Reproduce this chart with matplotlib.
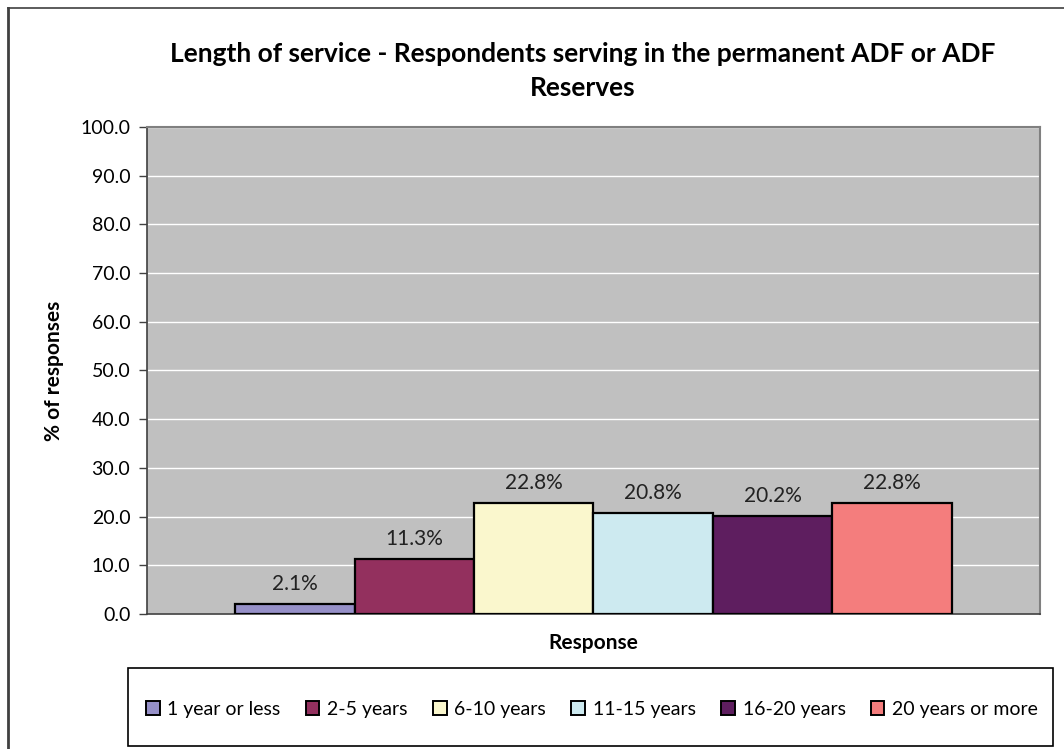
import matplotlib
matplotlib.use("Agg")
import matplotlib.pyplot as plt
from matplotlib.lines import Line2D
from matplotlib.patches import Rectangle

plt.rcParams['font.family'] = ['Lato', 'DejaVu Sans']

# service length groups and their share of responses (%)
groups = ['1 year or less', '2-5 years', '6-10 years', '11-15 years',
          '16-20 years', '20 years or more']
pct = [2.1, 11.3, 22.8, 20.8, 20.2, 22.8]
colors = ['#9690C8', '#93305E', '#FAF7CD', '#CDEAF0', '#5E1E5F', '#F47D7D']
yticks = [0, 10, 20, 30, 40, 50, 60, 70, 80, 90, 100]

fig = plt.figure(figsize=(10.64, 7.49), dpi=100)
ax = fig.add_axes([147 / 1064, 1 - 614 / 749, 893 / 1064, 487 / 749])
ax.set_facecolor('#C0C0C0')

for i, (g, v, c) in enumerate(zip(groups, pct, colors)):
    ax.bar(i, v, width=1.0, color=c, edgecolor='black', linewidth=1.6,
           label=g, zorder=3)
    ax.text(i, v + 2.0, f'{v:.1f}%', ha='center', va='bottom', fontsize=15,
            color='#222222', zorder=4)

ax.set_xlim(-1.24, 6.24)
ax.set_ylim(0, 100)
ax.set_yticks(yticks)
ax.set_yticklabels([f'{t:.1f}' for t in yticks], fontsize=14)
ax.set_xticks([])
ax.yaxis.grid(True, color='white', linewidth=1.0, zorder=0)
ax.tick_params(axis='y', direction='out', length=6, width=1, color='#404040', pad=6)

for side in ['left', 'bottom']:
    ax.spines[side].set_color('#404040')
    ax.spines[side].set_linewidth(1.2)
for side in ['right', 'top']:
    ax.spines[side].set_color('#808080')
    ax.spines[side].set_linewidth(1.5)

ax.set_ylabel('% of responses', fontsize=15, fontweight='bold', labelpad=12)
ax.set_xlabel('Response', fontsize=15, fontweight='bold', labelpad=14)

fig.text(583 / 1064, 1 - 71 / 749,
         'Length of service - Respondents serving in the permanent ADF or ADF\nReserves',
         ha='center', va='center', fontsize=19, fontweight='bold',
         linespacing=1.45)

# legend inside a framed box under the plot
box = Rectangle((128 / 1064, 1 - 746 / 749), 925 / 1064, 78 / 749,
                transform=fig.transFigure, facecolor='white',
                edgecolor='black', linewidth=1.2)
fig.patches.append(box)
handles = [Rectangle((0, 0), 1, 1, facecolor=c, edgecolor='black', linewidth=1.4)
           for c in colors]
fig.legend(handles, groups, loc='center', ncol=6, frameon=False,
           bbox_to_anchor=(592 / 1064, 1 - 709 / 749), fontsize=14,
           handlelength=0.7, handleheight=0.7, handletextpad=0.4,
           columnspacing=1.3)

# outer chart border
fig.add_artist(Line2D([7.5 / 1064, 7.5 / 1064], [0, 1 - 8 / 749],
                      transform=fig.transFigure, color='#404040', linewidth=2))
fig.add_artist(Line2D([7.5 / 1064, 1], [1 - 8 / 749, 1 - 8 / 749],
                      transform=fig.transFigure, color='#404040', linewidth=1.2))

fig.savefig('out.png', dpi=100)
